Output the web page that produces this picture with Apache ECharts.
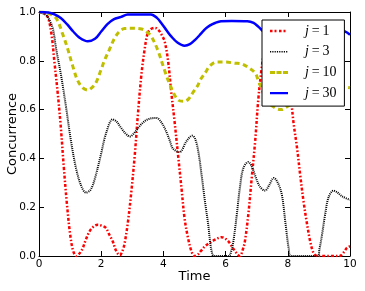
<!DOCTYPE html>
<html>
<head>
<meta charset="utf-8">
<script src="https://cdn.jsdelivr.net/npm/echarts@6/dist/echarts.min.js"></script>
<style>
html,body{margin:0;padding:0;background:#fff;}
#chart{width:365px;height:291px;}
</style>
</head>
<body>
<div id="chart"></div>
<script>
// Tick labels
const xTicks = [0, 2, 4, 6, 8, 10];
const yTicks = [0.0, 0.2, 0.4, 0.6, 0.8, 1.0];
const yTickLabels = ['0.0', '0.2', '0.4', '0.6', '0.8', '1.0'];
const seriesNames = ['j=1', 'j=3', 'j=10', 'j=30'];

// j = 1
const tJ1 = [0,0.15,0.28,0.4,0.5,0.6,0.7,0.8,0.9,1.0,1.1,1.2,1.3,1.4,1.5,1.62,1.75,1.89,2.0,2.15,2.25,2.37,2.45,2.53,2.6,2.68,2.75,2.86,2.97,3.08,3.18,3.29,3.4,3.5,3.6,3.73,3.85,3.95,4.04,4.15,4.25,4.36,4.47,4.58,4.68,4.79,4.9,5.0,5.1,5.2,5.34,5.5,5.66,5.87,6.0,6.09,6.2,6.3,6.4,6.46,6.55,6.62,6.73,6.84,6.95,7.05,7.15,7.25,7.35,7.5,7.65,7.8,7.95,8.05,8.13,8.19,8.3,8.4,8.51,8.62,8.72,8.83,8.95,9.3,9.66,9.8,9.9,10];
const cJ1 = [1.0,0.995,0.98,0.91,0.79,0.67,0.53,0.36,0.21,0.09,0.02,0.0,0.01,0.03,0.065,0.10,0.12,0.128,0.125,0.115,0.09,0.06,0.03,0.01,0.003,0.02,0.05,0.14,0.265,0.415,0.58,0.74,0.85,0.915,0.93,0.935,0.925,0.905,0.88,0.80,0.675,0.55,0.415,0.28,0.155,0.075,0.02,0.0,0.005,0.02,0.04,0.055,0.067,0.077,0.07,0.06,0.04,0.02,0.005,0.0,0.025,0.06,0.17,0.32,0.47,0.64,0.76,0.85,0.9,0.93,0.93,0.89,0.79,0.70,0.61,0.54,0.44,0.33,0.22,0.13,0.06,0.012,0.0,0.0,0.0,0.015,0.033,0.04];

// j = 3
const tJ3 = [0,0.2,0.3,0.44,0.55,0.71,0.87,1.03,1.19,1.35,1.51,1.65,1.78,1.99,2.15,2.37,2.5,2.64,2.8,2.92,3.1,3.29,3.5,3.77,3.95,4.09,4.2,4.31,4.52,4.74,4.93,5.02,5.12,5.23,5.34,5.44,5.5,5.56,5.62,6.1,6.18,6.25,6.36,6.46,6.57,6.73,6.85,6.95,7.1,7.27,7.4,7.55,7.68,7.81,7.92,8.03,8.1,8.95,9.02,9.1,9.2,9.31,9.47,9.6,9.74,10];
const cJ3 = [1.0,0.99,0.975,0.935,0.85,0.74,0.61,0.47,0.36,0.29,0.26,0.27,0.31,0.415,0.50,0.56,0.55,0.525,0.50,0.49,0.51,0.54,0.56,0.566,0.545,0.51,0.475,0.44,0.426,0.47,0.493,0.48,0.43,0.33,0.22,0.13,0.06,0.015,0.0,0.0,0.02,0.06,0.17,0.28,0.36,0.385,0.365,0.33,0.285,0.268,0.29,0.32,0.30,0.25,0.14,0.03,0.0,0.0,0.03,0.087,0.17,0.24,0.268,0.26,0.245,0.23];

// j = 10
const tJ10 = [0,0.3,0.55,0.76,0.92,1.08,1.24,1.4,1.57,1.7,1.83,2.0,2.1,2.26,2.42,2.58,2.75,3.0,3.3,3.45,3.61,3.83,4.04,4.25,4.47,4.68,4.82,4.95,5.11,5.18,5.34,5.5,5.71,6.0,6.3,6.5,6.73,6.95,7.05,7.2,7.35,7.5,7.65,7.8,7.92,8.2,8.6,9.0,9.4,9.7,10];
const cJ10 = [1.0,0.995,0.975,0.91,0.85,0.78,0.72,0.69,0.68,0.69,0.71,0.765,0.80,0.845,0.89,0.92,0.932,0.933,0.93,0.92,0.90,0.84,0.76,0.69,0.64,0.634,0.645,0.67,0.70,0.72,0.75,0.78,0.795,0.795,0.79,0.788,0.773,0.75,0.72,0.67,0.63,0.615,0.603,0.60,0.607,0.63,0.66,0.69,0.70,0.695,0.69];

// j = 30
const tJ30 = [0,0.3,0.5,0.7,0.9,1.1,1.3,1.57,1.8,2.0,2.2,2.4,2.64,2.85,3.2,3.6,3.8,3.93,4.1,4.25,4.45,4.68,4.85,5.02,5.2,5.34,5.5,5.66,5.85,6.2,6.7,6.9,7.05,7.3,7.6,7.9,8.3,8.7,9.1,9.5,9.85,10];
const cJ30 = [1.0,0.998,0.99,0.975,0.95,0.92,0.895,0.88,0.89,0.92,0.95,0.97,0.98,0.99,0.99,0.99,0.975,0.955,0.925,0.90,0.875,0.862,0.868,0.886,0.91,0.93,0.945,0.955,0.962,0.963,0.962,0.955,0.94,0.91,0.885,0.88,0.895,0.925,0.94,0.935,0.92,0.907];

function zip(t, c) {
  const n = Math.min(t.length, c.length);
  const out = [];
  for (let i = 0; i < n; i++) out.push([t[i], c[i]]);
  return out;
}

// Legend sample glyphs (18x14 box), drawn as dash segments
function dashIcon(segments, y0, y1) {
  let p = 'path://M0,0h0.01v0.01h-0.01z M17.99,13.99h0.01v0.01h-0.01z';
  segments.forEach(function (s) {
    p += ' M' + s[0] + ',' + y0 + 'H' + s[1] + 'V' + y1 + 'H' + s[0] + 'Z';
  });
  return p;
}
const iconJ1 = dashIcon([[0, 2.5], [4.5, 6.5], [9, 11.5], [13.5, 15.5]], 5.8, 8.2);
const iconJ3 = dashIcon([[0, 1.2], [2.3, 3.5], [4.6, 5.8], [6.9, 8.1], [9.2, 10.4], [11.5, 12.7], [13.8, 15.0], [16.1, 17.3]], 6.2, 7.8);
const iconJ10 = dashIcon([[0, 5], [6.5, 11.5], [13, 18]], 5.5, 8.5);
const iconJ30 = dashIcon([[0, 18]], 5.8, 8.2);

const xMin = xTicks[0], xMax = xTicks[xTicks.length - 1];
const xStep = xTicks[1] - xTicks[0];
const yMin = yTicks[0], yMax = yTicks[yTicks.length - 1];
const yStep = yTicks[1] - yTicks[0];

const axisFont = 'DejaVu Sans';

const chart = echarts.init(document.getElementById('chart'), null, { renderer: 'canvas' });

// Series use the value y axis (index 1); index 0 carries the labelled tick positions.
function lineSeries(name, data, color, width, dash) {
  return {
    name: name,
    type: 'line',
    data: data,
    xAxisIndex: 0,
    yAxisIndex: 1,
    smooth: 0.35,
    symbol: 'none',
    showSymbol: false,
    clip: true,
    lineStyle: { color: color, width: width, type: dash, cap: 'butt' },
    itemStyle: { color: color }
  };
}

function ticks() {
  return { show: true, inside: true, length: 5, lineStyle: { color: '#000', width: 1 } };
}

chart.setOption({
  animation: false,
  backgroundColor: '#fff',
  grid: { left: 39, right: 15, top: 12, bottom: 35, outerBoundsMode: 'none', show: false },
  legend: {
    show: true,
    orient: 'vertical',
    left: 262,
    top: 20,
    padding: [4, 8, 6, 8],
    itemWidth: 18,
    itemHeight: 14,
    itemGap: 6.7,
    backgroundColor: '#fff',
    borderColor: '#000',
    borderWidth: 1,
    borderRadius: 0,
    data: [
      { name: seriesNames[0], icon: iconJ1, itemStyle: { color: '#ff0000' } },
      { name: seriesNames[1], icon: iconJ3, itemStyle: { color: '#000000' } },
      { name: seriesNames[2], icon: iconJ10, itemStyle: { color: '#bfbf00' } },
      { name: seriesNames[3], icon: iconJ30, itemStyle: { color: '#0000ff' } }
    ],
    formatter: function (name) {
      const num = name.split('=')[1];
      return '{i|j}{t|\u2009=\u2009' + num + '}';
    },
    textStyle: {
      color: '#000',
      rich: {
        i: { fontFamily: 'Liberation Serif', fontStyle: 'italic', fontSize: 14, lineHeight: 14, padding: [0, 0, 0, 12], color: '#000' },
        t: { fontFamily: 'Liberation Serif', fontSize: 14, lineHeight: 14, color: '#000' }
      }
    }
  },
  xAxis: [
    {
      type: 'value', position: 'bottom', min: xMin, max: xMax, interval: xStep,
      name: 'Time', nameLocation: 'middle', nameGap: 14, nameMoveOverlap: false,
      nameTextStyle: { fontFamily: axisFont, fontSize: 13, color: '#000' },
      axisLine: { show: true, onZero: false, lineStyle: { color: '#000', width: 1 } },
      axisTick: ticks(),
      axisLabel: { show: true, color: '#000', fontFamily: axisFont, fontSize: 10.5, margin: 3 },
      splitLine: { show: false }
    },
    {
      type: 'value', position: 'top', min: xMin, max: xMax, interval: xStep,
      axisLine: { show: true, onZero: false, lineStyle: { color: '#000', width: 1 } },
      axisTick: ticks(),
      axisLabel: { show: false },
      splitLine: { show: false }
    }
  ],
  yAxis: [
    {
      type: 'category', position: 'left', data: yTickLabels, boundaryGap: false,
      name: 'Concurrence', nameLocation: 'middle', nameGap: 20, nameRotate: 90, nameMoveOverlap: false,
      nameTextStyle: { fontFamily: axisFont, fontSize: 13, color: '#000' },
      axisLine: { show: true, onZero: false, lineStyle: { color: '#000', width: 1 } },
      axisTick: { show: true, inside: true, length: 5, interval: 0, lineStyle: { color: '#000', width: 1 } },
      axisLabel: { show: true, interval: 0, color: '#000', fontFamily: axisFont, fontSize: 10.5, margin: 3 },
      splitLine: { show: false }
    },
    {
      type: 'value', position: 'right', min: yMin, max: yMax, interval: yStep,
      axisLine: { show: true, onZero: false, lineStyle: { color: '#000', width: 1 } },
      axisTick: ticks(),
      axisLabel: { show: false },
      splitLine: { show: false }
    }
  ],
  series: [
    lineSeries(seriesNames[0], zip(tJ1, cJ1), '#ff0000', 2.5, [3, 2, 1.5, 2]),
    lineSeries(seriesNames[1], zip(tJ3, cJ3), '#000000', 2, [1, 1]),
    lineSeries(seriesNames[2], zip(tJ10, cJ10), '#bfbf00', 3, [5, 3.5]),
    lineSeries(seriesNames[3], zip(tJ30, cJ30), '#0000ff', 2.5, 'solid')
  ]
});
</script>
</body>
</html>
